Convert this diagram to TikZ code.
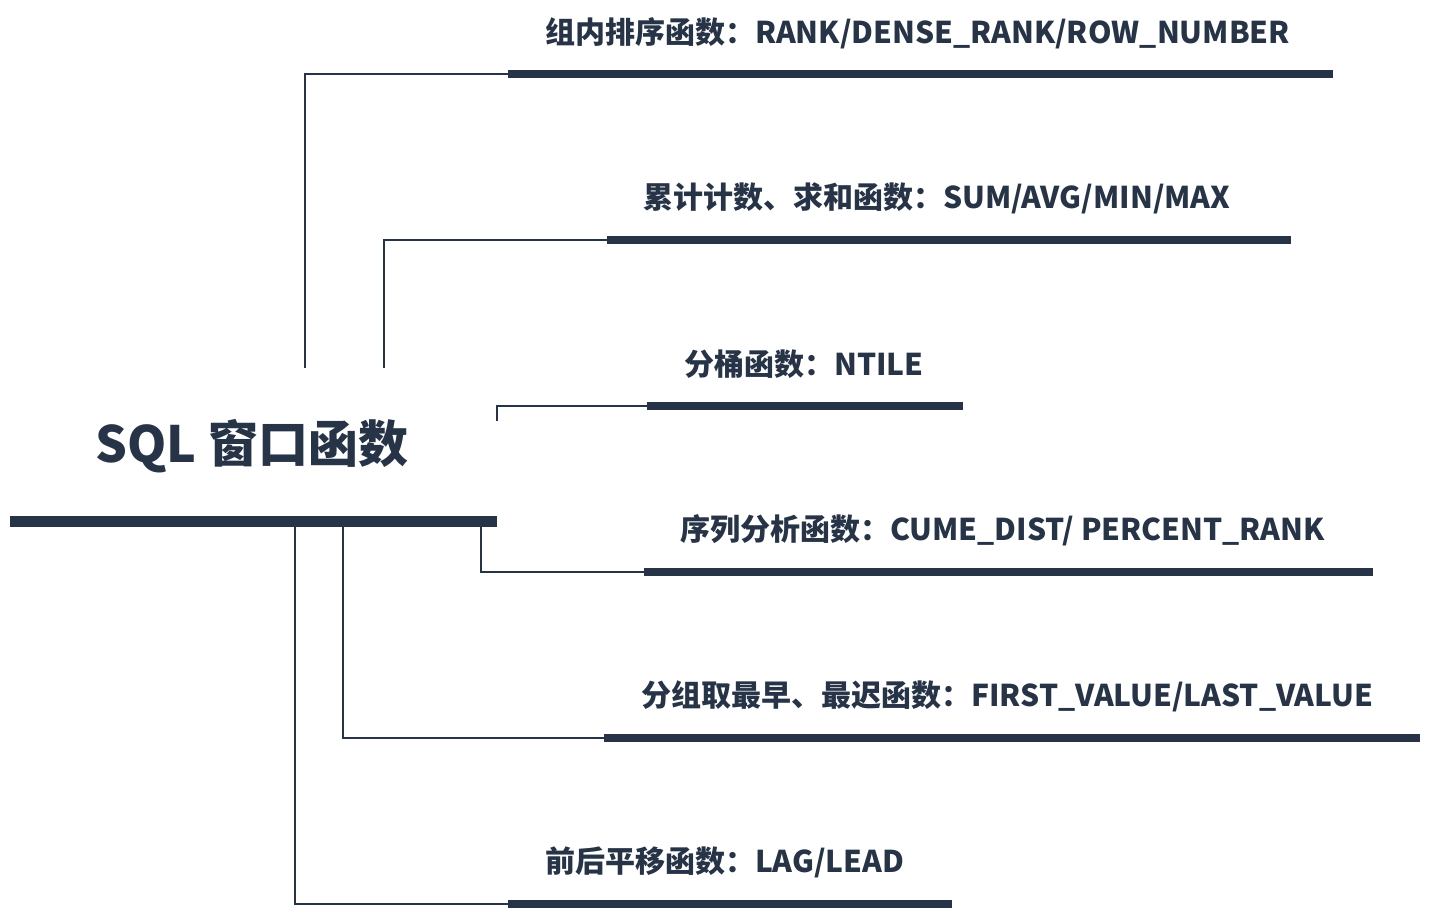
\documentclass[tikz,border=0pt]{standalone}
\usepackage{fontspec}
\newfontfamily\cjk{Noto Sans CJK SC}
\usetikzlibrary{positioning}
\definecolor{navy}{HTML}{273447}

\begin{document}
\begin{tikzpicture}[
  x=1pt, y=-1pt,
  font=\cjk\bfseries\fontsize{30}{36}\selectfont,
  every node/.style={text=navy, inner sep=0pt},
  trunk/.style={draw=navy, line width=11pt},
  bar/.style={draw=navy, line width=8pt},
  link/.style={draw=navy, line width=2pt}
]
\useasboundingbox (0,0) rectangle (1440,921);

% root
\coordinate (rootL) at (10,521);
\coordinate (rootR) at (497,521);
\draw[trunk] (rootL) -- (rootR);
\node[font=\cjk\bfseries\fontsize{50}{56}\selectfont] (root) at (252,446) {SQL 窗口函数};

% upper branches
\coordinate (b1s) at (508,74);
\coordinate (b1e) at (1333,74);
\draw[bar] (b1s) -- (b1e);
\node[anchor=west] (t1) at (545,33) {组内排序函数：RANK/DENSE\_RANK/ROW\_NUMBER};
\coordinate (j1) at (305,368);
\draw[link] (j1) |- (b1s);

\coordinate (b2s) at (607,240);
\coordinate (b2e) at (1291,240);
\draw[bar] (b2s) -- (b2e);
\node[anchor=west] (t2) at (643,198) {累计计数、求和函数：SUM/AVG/MIN/MAX};
\coordinate (j2) at (384,368);
\draw[link] (j2) |- (b2s);

\coordinate (b3s) at (647,406);
\coordinate (b3e) at (963,406);
\draw[bar] (b3s) -- (b3e);
\node[anchor=west] (t3) at (684,364) {分桶函数：NTILE};
\coordinate (j3) at (497,421);
\draw[link] (j3) |- (b3s);

% lower branches
\coordinate (b4s) at (644,572);
\coordinate (b4e) at (1373,572);
\draw[bar] (b4s) -- (b4e);
\node[anchor=west] (t4) at (680,530) {序列分析函数：CUME\_DIST/ PERCENT\_RANK};
\coordinate (j4) at (481,526);
\draw[link] (j4) |- (b4s);

\coordinate (b5s) at (604,738);
\coordinate (b5e) at (1420,738);
\draw[bar] (b5s) -- (b5e);
\node[anchor=west] (t5) at (641,696) {分组取最早、最迟函数：FIRST\_VALUE/LAST\_VALUE};
\coordinate (j5) at (343,526);
\draw[link] (j5) |- (b5s);

\coordinate (b6s) at (508,904);
\coordinate (b6e) at (952,904);
\draw[bar] (b6s) -- (b6e);
\node[anchor=west] (t6) at (545,862) {前后平移函数：LAG/LEAD};
\coordinate (j6) at (295,526);
\draw[link] (j6) |- (b6s);
\end{tikzpicture}
\end{document}
